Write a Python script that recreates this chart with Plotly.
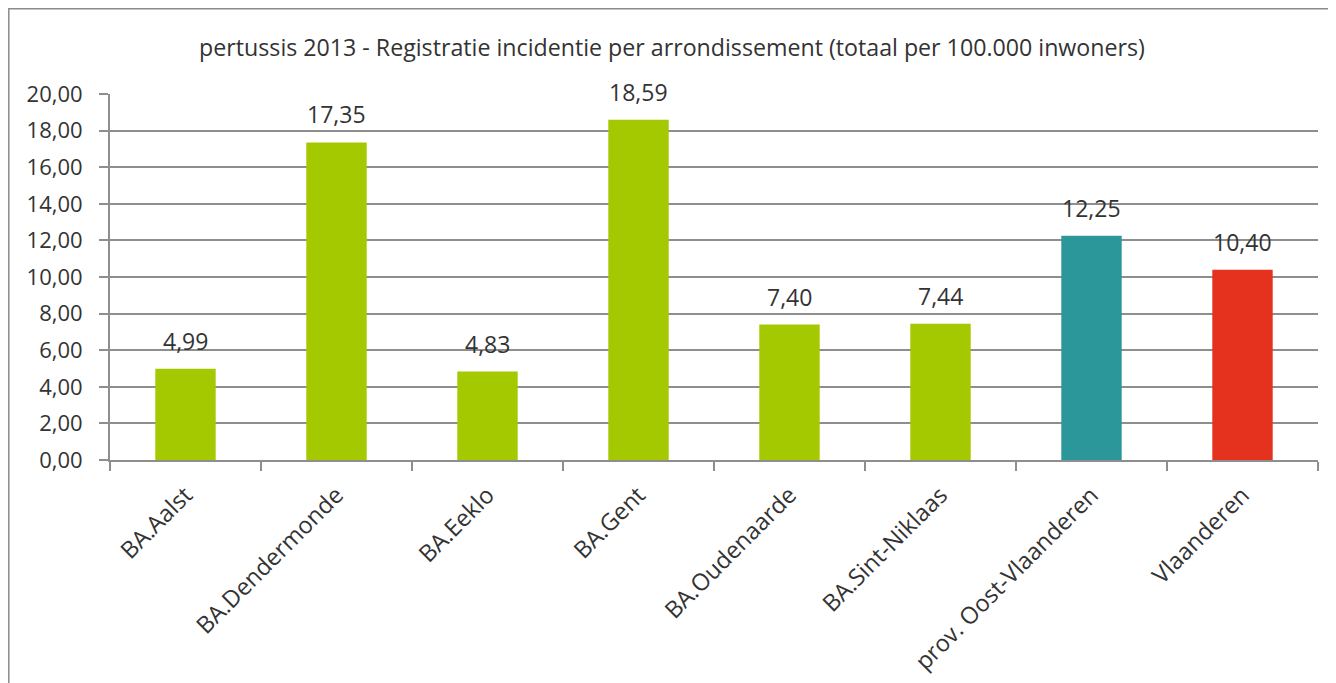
import plotly.graph_objects as go

categories = ['BA.Aalst', 'BA.Dendermonde', 'BA.Eeklo', 'BA.Gent', 'BA.Oudenaarde',
              'BA.Sint-Niklaas', 'prov. Oost-Vlaanderen', 'Vlaanderen']
values = [4.99, 17.35, 4.83, 18.59, 7.40, 7.44, 12.25, 10.40]
bar_colors = ['#A5C900'] * 6 + ['#2C979A', '#E5321F']
y_ticks = [0, 2, 4, 6, 8, 10, 12, 14, 16, 18, 20]

font = 'Open Sans'
txt = '#333333'
grey = '#8E8E8E'

fig = go.Figure()
fig.add_trace(go.Bar(x=categories, y=values, marker=dict(color=bar_colors, line=dict(width=0)),
                     width=0.4, showlegend=False, hoverinfo='x+y'))

# data labels above the bars
for c, v in zip(categories, values):
    fig.add_annotation(x=c, y=v, text=f'{v:.2f}'.replace('.', ','), showarrow=False,
                       yanchor='bottom', yshift=10, font=dict(family=font, size=23, color=txt))

# page has an 8px body margin, so the figure is a bit smaller than the window
W, H = 1328, 675
ml, mr, mt, mb = 102, 18, 86, 223
pw, ph = W - ml - mr, H - mt - mb

# outer chart border
fig.add_shape(type='rect', xref='paper', yref='paper',
              x0=(0.8 - ml) / pw, x1=(1321 - ml) / pw,
              y0=(H - mb - 700) / ph, y1=(H - mb - 0.8) / ph,
              line=dict(color='#8C8C8C', width=1.5), fillcolor='rgba(0,0,0,0)', layer='below')

fig.update_layout(
    width=W, height=H,
    margin=dict(l=ml, r=mr, t=mt, b=mb),
    paper_bgcolor='white', plot_bgcolor='white',
    separators=',.',
    title=dict(text='pertussis 2013 - Registratie incidentie per arrondissement (totaal per 100.000 inwoners)',
               x=0.5, xref='container', xanchor='center', y=1 - 40 / H, yanchor='middle',
               font=dict(family=font, size=23.2, color=txt)),
    font=dict(family=font, color=txt),
    bargap=0.6,
)
fig.update_xaxes(type='category', showline=True, linecolor=grey, linewidth=2,
                 ticks='outside', tickson='boundaries', ticklen=9, tickcolor=grey, tickwidth=2,
                 tickangle=-45, ticklabelstandoff=10, automargin=False,
                 tickfont=dict(family=font, size=23.5, color=txt), showgrid=False)
fig.update_yaxes(range=[0, 20], tickvals=y_ticks, tickformat='.2f', showline=True, linecolor=grey,
                 linewidth=2, ticks='outside', ticklen=9, tickcolor=grey, tickwidth=2,
                 ticklabelstandoff=12, automargin=False,
                 showgrid=True, gridcolor=grey, gridwidth=1.5, zeroline=False,
                 tickfont=dict(family=font, size=22, color=txt))

fig.write_html('out.html')
